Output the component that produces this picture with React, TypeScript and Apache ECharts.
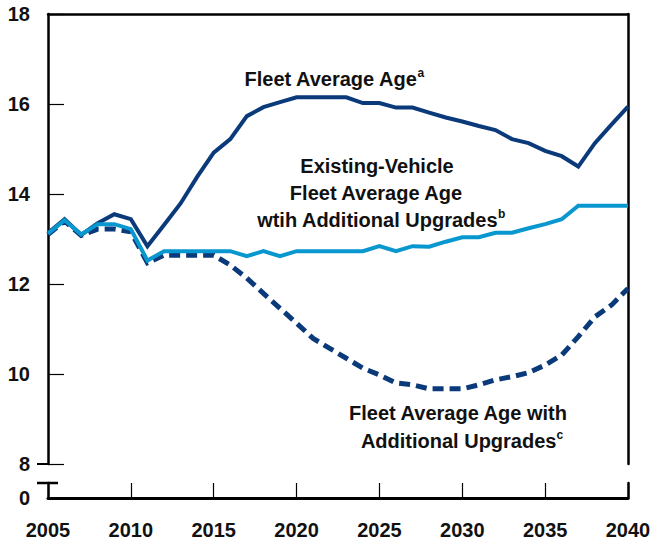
import React, { useEffect, useRef } from "react";
import * as echarts from "echarts";

const years: number[] = [];
for (let y = 2005; y <= 2040; y++) years.push(y);

const fleetAverageAge = [
  13.13, 13.44, 13.09, 13.35, 13.55, 13.44, 12.84, 13.31, 13.79, 14.38,
  14.92, 15.22, 15.73, 15.93, 16.04, 16.15, 16.15, 16.15, 16.15, 16.02,
  16.02, 15.92, 15.92, 15.81, 15.70, 15.61, 15.51, 15.42, 15.22, 15.13,
  14.96, 14.84, 14.61, 15.13, 15.54, 15.94,
];

const existingVehicleUpgrades = [
  13.12, 13.42, 13.1, 13.33, 13.33, 13.22, 12.52, 12.73, 12.73, 12.73,
  12.73, 12.73, 12.62, 12.73, 12.62, 12.73, 12.73, 12.73, 12.73, 12.73,
  12.84, 12.73, 12.84, 12.83, 12.94, 13.04, 13.04, 13.14, 13.14, 13.24,
  13.33, 13.44, 13.74, 13.74, 13.74, 13.74,
];

const fleetWithUpgrades = [
  13.1, 13.4, 13.08, 13.22, 13.22, 13.16, 12.47, 12.64, 12.64, 12.64,
  12.64, 12.42, 12.13, 11.79, 11.46, 11.13, 10.79, 10.57, 10.35, 10.13,
  9.98, 9.8, 9.76, 9.67, 9.67, 9.67, 9.76, 9.87, 9.94, 10.03,
  10.2, 10.42, 10.83, 11.27, 11.53, 11.9,
];

const DARK = "#0b3a7b";
const LIGHT = "#0997cf";
const FONT = "'Liberation Sans', Arial, sans-serif";

const pairs = (vals: number[]) => years.map((y, i) => [y, vals[i]]);

export default function App() {
  const ref = useRef<HTMLDivElement>(null);
  useEffect(() => {
    if (!ref.current) return;
    const chart = echarts.init(ref.current, null, { renderer: "svg" });
    const labelStyle = {
      fontFamily: FONT,
      fontWeight: "bold" as const,
      fontSize: 20,
      color: "#111",
    };
    const axisLine = { show: true, lineStyle: { color: "#000", width: 2.5 } };
    const textStyle = { fontFamily: FONT, fontWeight: "bold", fontSize: 20, fill: "#111" };
    const supStyle = { fontFamily: FONT, fontWeight: "bold", fontSize: 12, fill: "#111", verticalAlign: "top" };
    chart.setOption({
      animation: false,
      grid: [
        { left: 48, right: 26, top: 14, height: 450 },
        { left: 48, right: 26, top: 483, height: 15 },
      ],
      xAxis: [
        {
          gridIndex: 0, type: "value", min: 2005, max: 2040, interval: 5,
          position: "bottom", axisLine: { show: false }, axisTick: { show: false },
          axisLabel: { show: false }, splitLine: { show: false },
        },
        {
          gridIndex: 0, type: "value", min: 2005, max: 2040, interval: 5,
          position: "top", axisLine, axisTick: { show: false },
          axisLabel: { show: false }, splitLine: { show: false },
        },
        {
          gridIndex: 1, type: "value", min: 2005, max: 2040, interval: 5,
          position: "bottom", axisLine: { show: true, lineStyle: { color: "#000", width: 3 } },
          axisTick: { show: true, inside: true, length: 15, lineStyle: { color: "#000", width: 1.2 } },
          axisLabel: { ...labelStyle, margin: 22, formatter: (v: number) => String(v) },
          splitLine: { show: false },
        },
      ],
      yAxis: [
        {
          gridIndex: 0, type: "value", min: 8, max: 18, interval: 2,
          axisLine, axisTick: { show: true, inside: true, length: 16, lineStyle: { color: "#000", width: 1.2 } },
          axisLabel: { ...labelStyle, margin: 18 }, splitLine: { show: false },
        },
        {
          gridIndex: 0, type: "value", min: 8, max: 18, interval: 2, position: "right",
          axisLine, axisTick: { show: false }, axisLabel: { show: false }, splitLine: { show: false },
        },
        {
          gridIndex: 1, type: "value", min: 0, max: 1, interval: 1,
          axisLine, axisTick: { show: false },
          axisLabel: { ...labelStyle, margin: 18, formatter: (v: number) => (v === 0 ? "0" : "") },
          splitLine: { show: false },
        },
        {
          gridIndex: 1, type: "value", min: 0, max: 1, interval: 1, position: "right",
          axisLine, axisTick: { show: false }, axisLabel: { show: false }, splitLine: { show: false },
        },
      ],
      series: [
        {
          name: "Fleet Average Age with Additional Upgrades", type: "line",
          xAxisIndex: 0, yAxisIndex: 0, data: pairs(fleetWithUpgrades), symbol: "none",
          lineStyle: { color: DARK, width: 5, type: [11, 6], cap: "butt", join: "miter" },
        },
        {
          name: "Fleet Average Age", type: "line",
          xAxisIndex: 0, yAxisIndex: 0, data: pairs(fleetAverageAge), symbol: "none",
          lineStyle: { color: DARK, width: 4, join: "miter" },
        },
        {
          name: "Existing-Vehicle Fleet Average Age with Additional Upgrades", type: "line",
          xAxisIndex: 0, yAxisIndex: 0, data: pairs(existingVehicleUpgrades), symbol: "none",
          lineStyle: { color: LIGHT, width: 4, join: "miter" },
        },
      ],
      graphic: [
        { type: "line", shape: { x1: 37, y1: 464, x2: 48, y2: 464 }, style: { stroke: "#000", lineWidth: 2 } },
        { type: "line", shape: { x1: 37, y1: 483, x2: 58, y2: 483 }, style: { stroke: "#000", lineWidth: 2.5 } },
        {
          type: "text", x: 334, y: 79,
          style: {
            text: "{t|Fleet Average Age}{s|a}", align: "center", verticalAlign: "middle",
            rich: { t: { ...textStyle, lineHeight: 24 }, s: supStyle },
          },
        },
        {
          type: "text", x: 377, y: 166,
          style: { text: "Existing-Vehicle", align: "center", verticalAlign: "middle", font: `bold 20px ${FONT}`, fill: "#111" },
        },
        {
          type: "text", x: 376, y: 193,
          style: { text: "Fleet Average Age", align: "center", verticalAlign: "middle", font: `bold 20px ${FONT}`, fill: "#111" },
        },
        {
          type: "text", x: 381, y: 220,
          style: {
            text: "{t|wtih Additional Upgrades}{s|b}", align: "center", verticalAlign: "middle",
            rich: { t: { ...textStyle, lineHeight: 24 }, s: supStyle },
          },
        },
        {
          type: "text", x: 458, y: 413,
          style: { text: "Fleet Average Age with", align: "center", verticalAlign: "middle", font: `bold 20px ${FONT}`, fill: "#111" },
        },
        {
          type: "text", x: 462, y: 441,
          style: {
            text: "{t|Additional Upgrades}{s|c}", align: "center", verticalAlign: "middle",
            rich: { t: { ...textStyle, lineHeight: 24 }, s: supStyle },
          },
        },
      ],
    });
    return () => chart.dispose();
  }, []);
  return (
    <div
      ref={ref}
      style={{ position: "fixed", left: 0, top: 0, width: 654, height: 548, background: "#fff" }}
    />
  );
}
